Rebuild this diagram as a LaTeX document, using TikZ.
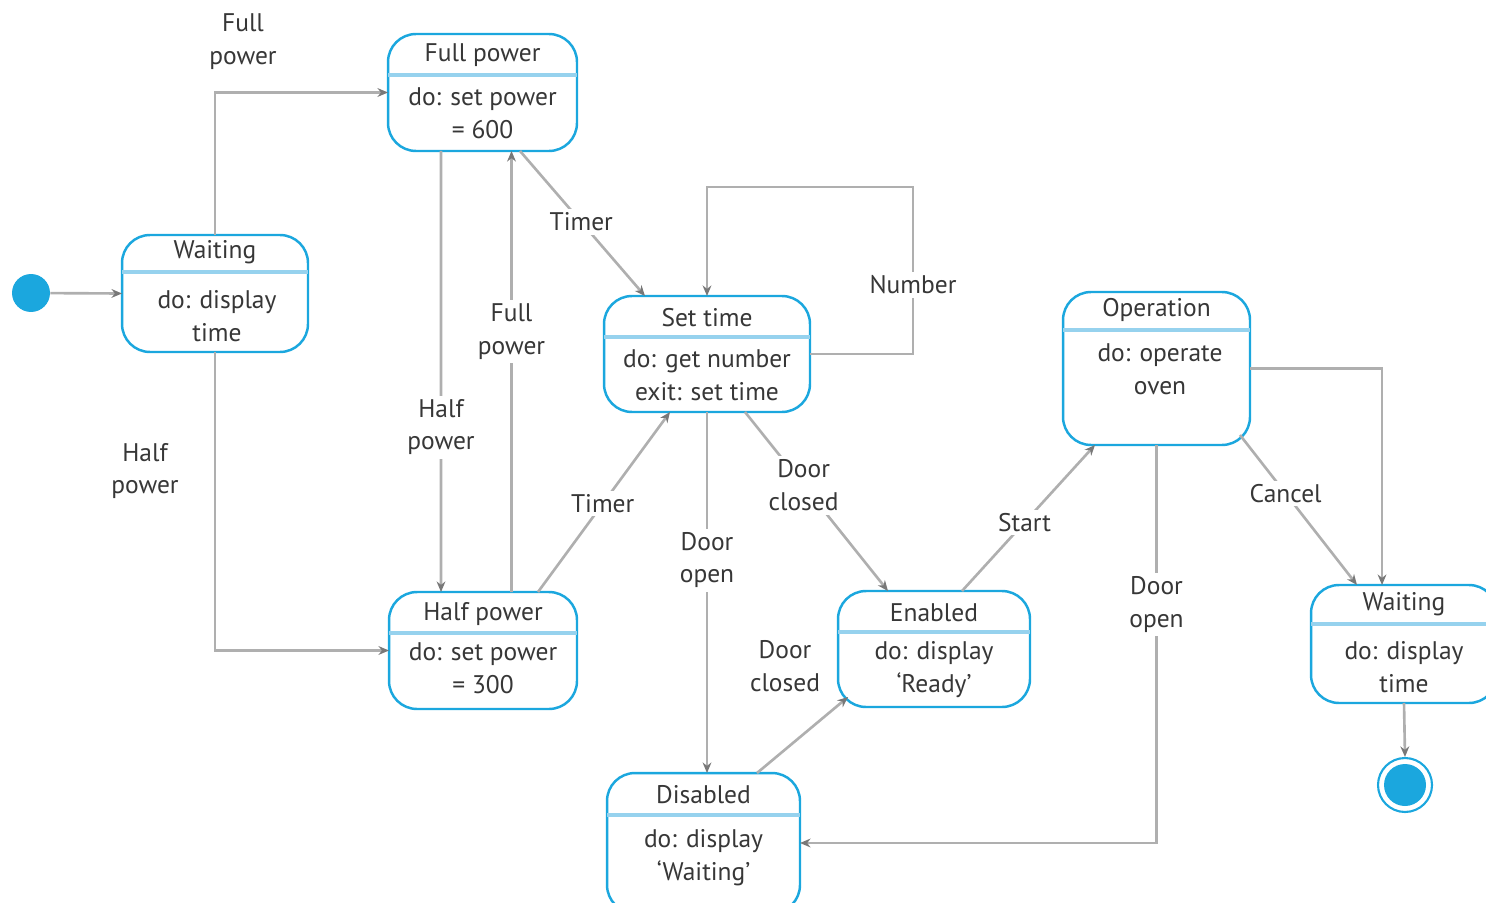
\documentclass[tikz,border=0pt]{standalone}
\usepackage{fontspec}
\setmainfont{PT Sans}
\usetikzlibrary{arrows.meta, calc}
\definecolor{stateblue}{RGB}{27, 167, 222}
\definecolor{divblue}{RGB}{150, 210, 238}
\definecolor{linegray}{RGB}{175, 175, 175}
\definecolor{tipgray}{RGB}{120, 120, 120}
\definecolor{textgray}{RGB}{55, 55, 55}

\begin{document}
\begin{tikzpicture}[x=0.02cm, y=-0.02cm,
  font=\fontsize{14.5}{18.7}\selectfont,
  state/.style={draw=stateblue, line width=1.4pt, rounded corners=0.56cm,
                inner sep=0pt, outer sep=0pt, fill=white},
  divider/.style={draw=divblue, line width=2pt},
  stxt/.style={text=textgray, align=center, inner sep=0pt},
  trans/.style={draw=linegray, line width=1.5pt,
                -{Stealth[length=6pt, width=5pt, color=tipgray]}},
  lbl/.style={fill=white, text=textgray, align=center, inner sep=2pt},
]
\useasboundingbox (0,0) rectangle (1486,902);

% States
\node[state, minimum width=3.72cm, minimum height=2.34cm] (w1) at (215, 293.5) {};
\draw[divider] (w1.west |- 0,272) -- (w1.east |- 0,272);
\node[stxt] (w1t) at (215, 252) {Waiting};
\node[stxt] (w1b) at (217, 316.5) {do: display\\time};

\node[state, minimum width=3.78cm, minimum height=2.34cm] (fp) at (482.5, 92.5) {};
\draw[divider] (fp.west |- 0,75) -- (fp.east |- 0,75);
\node[stxt] (fpt) at (482.5, 55) {Full power};
\node[stxt] (fpb) at (482.5, 113) {do: set power\\= 600};

\node[state, minimum width=4.12cm, minimum height=2.32cm] (st) at (707, 354) {};
\draw[divider] (st.west |- 0,337) -- (st.east |- 0,337);
\node[stxt] (stt) at (707, 318) {Set time};
\node[stxt] (stb) at (707, 375) {do: get number\\exit: set time};

\node[state, minimum width=3.76cm, minimum height=2.34cm] (hp) at (483, 650.5) {};
\draw[divider] (hp.west |- 0,633) -- (hp.east |- 0,633);
\node[stxt] (hpt) at (483, 614) {Half power};
\node[stxt] (hpb) at (483, 668.5) {do: set power\\= 300};

\node[state, minimum width=3.84cm, minimum height=2.32cm] (en) at (934, 649) {};
\draw[divider] (en.west |- 0,632) -- (en.east |- 0,632);
\node[stxt] (ent) at (934, 613) {Enabled};
\node[stxt] (enb) at (934, 670) {do: display\\`Ready'};

\node[state, minimum width=3.86cm, minimum height=2.8cm] (ds) at (703.5, 843) {};
\draw[divider] (ds.west |- 0,815) -- (ds.east |- 0,815);
\node[stxt] (dst) at (703.5, 795) {Disabled};
\node[stxt] (dsb) at (703.5, 857.5) {do: display\\`Waiting'};

\node[state, minimum width=3.74cm, minimum height=3.06cm] (op) at (1156.5, 368.5) {};
\draw[divider] (op.west |- 0,330) -- (op.east |- 0,330);
\node[stxt] (opt) at (1156.5, 310) {Operation};
\node[stxt] (opb) at (1160, 369.5) {do: operate\\oven};

\node[state, minimum width=3.72cm, minimum height=2.36cm] (w2) at (1404, 644) {};
\draw[divider] (w2.west |- 0,624) -- (w2.east |- 0,624);
\node[stxt] (w2t) at (1404, 604) {Waiting};
\node[stxt] (w2b) at (1404, 667) {do: display\\time};

% Start and end
\node[circle, fill=stateblue, minimum size=0.76cm, inner sep=0pt] (init) at (31, 293) {};
\node[circle, draw=stateblue, line width=1.2pt, minimum size=1.08cm, inner sep=0pt] (fin) at (1405, 785) {};
\node[circle, fill=stateblue, minimum size=0.84cm, inner sep=0pt] (findot) at (fin.center) {};

% Transitions
\draw[trans] (init) -- (w1.west);
\draw[trans] (w1.north) |- (fp.west);
\node[lbl] (l1) at (243, 42) {Full\\power};
\draw[trans] (w1.south) |- (hp.west);
\node[lbl] (l2) at (145, 471) {Half\\power};
\draw[trans] ([xshift=-0.83cm]fp.south) -- ([xshift=-0.84cm]hp.north)
  node[lbl, pos=0.626] (l3) {Half\\power};
\draw[trans] ([xshift=0.57cm]hp.north) -- ([xshift=0.58cm]fp.south)
  node[lbl, pos=0.59] (l4) {Full\\power};
\draw[trans] ([xshift=0.75cm]fp.south) -- ([xshift=-1.24cm]st.north)
  node[lbl, pos=0.49] (l5) {Timer};
\draw[trans] ([xshift=1.1cm]hp.north) -- ([xshift=-0.74cm]st.south)
  node[lbl, pos=0.49] (l6) {Timer};
\draw[trans] (st.east) -| ++(103,-167) -| (st.north);
\node[lbl] (l7) at (913, 285) {Number};
\draw[trans] ([xshift=0.76cm]st.south) -- ([xshift=-0.92cm]en.north)
  node[lbl, pos=0.41] (l8) {Door\\closed};
\draw[trans] (st.south) -- (st.south |- ds.north)
  node[lbl, pos=0.41] (l9) {Door\\open};
\draw[trans] ([xshift=1.07cm]ds.north) -- ($(en.south west)+(10,-10)$);
\node[lbl] (l10) at (785, 666) {Door\\closed};
\draw[trans] ([xshift=0.56cm]en.north) -- ([xshift=-1.23cm]op.south)
  node[lbl, pos=0.47] (l11) {Start};
\draw[trans] (op.south) |- (ds.east)
  node[lbl, pos=0.2] (l12) {Door\\open};
\draw[trans] (op.east) -| ([xshift=-0.44cm]w2.north);
\draw[trans] ($(op.south east)+(-10,-10)$) -- ([xshift=-0.94cm]w2.north)
  node[lbl, pos=0.39] (l13) {Cancel};
\draw[trans] (w2.south) -- (fin.north);
\end{tikzpicture}
\end{document}
